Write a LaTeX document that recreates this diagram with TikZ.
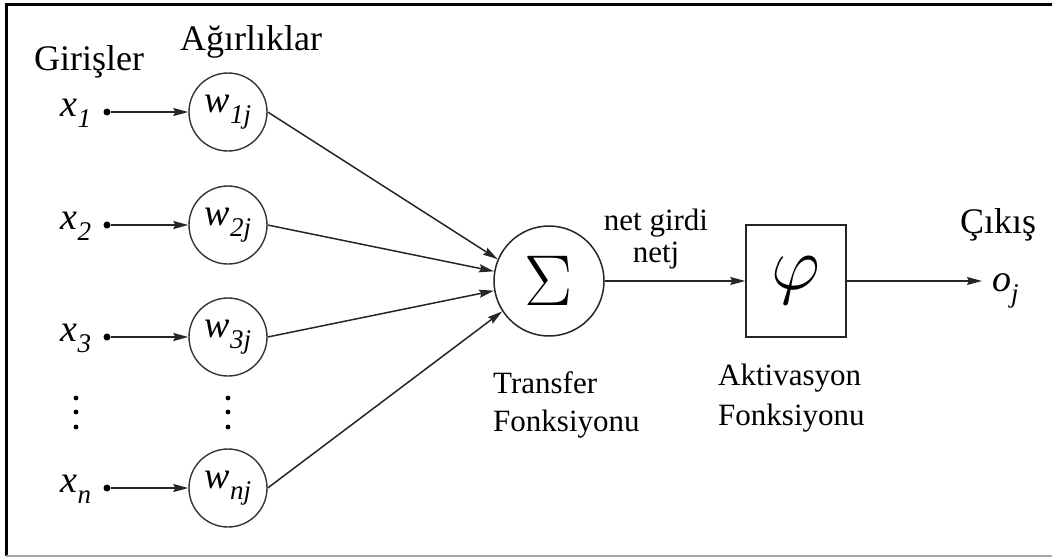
\RequirePackage{fix-cm}
\documentclass[tikz,border=0pt]{standalone}
\usepackage{fontspec}
\setmainfont{Liberation Serif}
\usetikzlibrary{arrows.meta}

\newcommand\vsub[2]{\textit{#1}\raisebox{-0.3em}{\fontsize{27}{27}\selectfont\textit{#2}}}

\begin{document}
\begin{tikzpicture}[x=1pt, y=-1pt,
  >={Stealth[length=15pt, width=8pt, inset=2pt]},
  wt/.style={draw=black!80, circle, minimum size=78pt, inner sep=0pt, line width=1.4pt,
    font=\fontsize{38}{40}\selectfont},
  var/.style={font=\fontsize{38}{40}\selectfont, inner sep=0pt},
  inp/.style={circle, fill, minimum size=7pt, inner sep=0pt},
  big/.style={font=\fontsize{36}{40}\selectfont, inner sep=0pt},
  lbl/.style={font=\fontsize{31}{38}\selectfont, align=left, inner sep=0pt},
  edge/.style={->, line width=1.5pt, draw=black!85}]
 \useasboundingbox (0,0) rectangle (1052,558);
 % frame
 \draw[line width=3pt] (1052,4) -- (6,4) -- (6,556);
 \draw[black!35, line width=1.5pt] (6,556) -- (1052,556);

 \node[big, anchor=base west] (gir) at (34,70) {Girişler};
 \node[big, anchor=base west] (agr) at (180,50) {Ağırlıklar};
 \node[big, anchor=base west] (cik) at (960,233) {Çıkış};

 \node[wt] (w1) at (228,112) {\vsub{w}{1j}};
 \node[wt] (w2) at (228,225) {\vsub{w}{2j}};
 \node[wt] (w3) at (228,337) {\vsub{w}{3j}};
 \node[wt] (wn) at (228,488) {\vsub{w}{nj}};

 \node[inp] (d1) at (107,112) {};
 \node[inp] (d2) at (107,225) {};
 \node[inp] (d3) at (107,337) {};
 \node[inp] (dn) at (107,488) {};

 \node[var, anchor=base] (x1) at (76,116) {\vsub{x}{1}};
 \node[var, anchor=base] (x2) at (76,229) {\vsub{x}{2}};
 \node[var, anchor=base] (x3) at (76,341) {\vsub{x}{3}};
 \node[var, anchor=base] (xn) at (76,492) {\vsub{x}{n}};

 \foreach \y in {398,412,427} {
   \fill (76,\y) circle[radius=2.4pt];
   \fill (228,\y) circle[radius=2.4pt];
 }

 \node[draw=black!85, circle, minimum size=110pt, inner sep=0pt, line width=1.5pt,
   font=\fontsize{72}{72}\selectfont] (sum) at (549,281) {$\Sigma$};
 \node[draw=black!85, minimum width=100pt, minimum height=112pt, inner sep=0pt,
   line width=1.5pt, font=\fontsize{76}{76}\selectfont] (phi) at (796,281) {$\varphi$};
 \node[var, anchor=base west] (oj) at (992,291) {\vsub{o}{j}};

 \node[lbl, align=center, anchor=north, font=\fontsize{31}{32}\selectfont] (net) at (656,209) {net girdi\\netj};
 \node[lbl, anchor=north west] (tf) at (493,371) {Transfer\\Fonksiyonu};
 \node[lbl, anchor=north west, font=\fontsize{31}{40}\selectfont] (af) at (718,364) {Aktivasyon\\Fonksiyonu};

 \draw[edge] (d1) -- (w1);
 \draw[edge] (d2) -- (w2);
 \draw[edge] (d3) -- (w3);
 \draw[edge] (dn) -- (wn);
 \draw[edge] (w1.east) -- (sum.157);
 \draw[edge] (w2.east) -- (sum.170);
 \draw[edge] (w3.east) -- (sum.190);
 \draw[edge] (wn.east) -- (sum.213);
 \draw[edge] (sum) -- (phi);
 \draw[edge, shorten >=10pt] (phi) -- (oj.west |- phi.east);
\end{tikzpicture}
\end{document}
